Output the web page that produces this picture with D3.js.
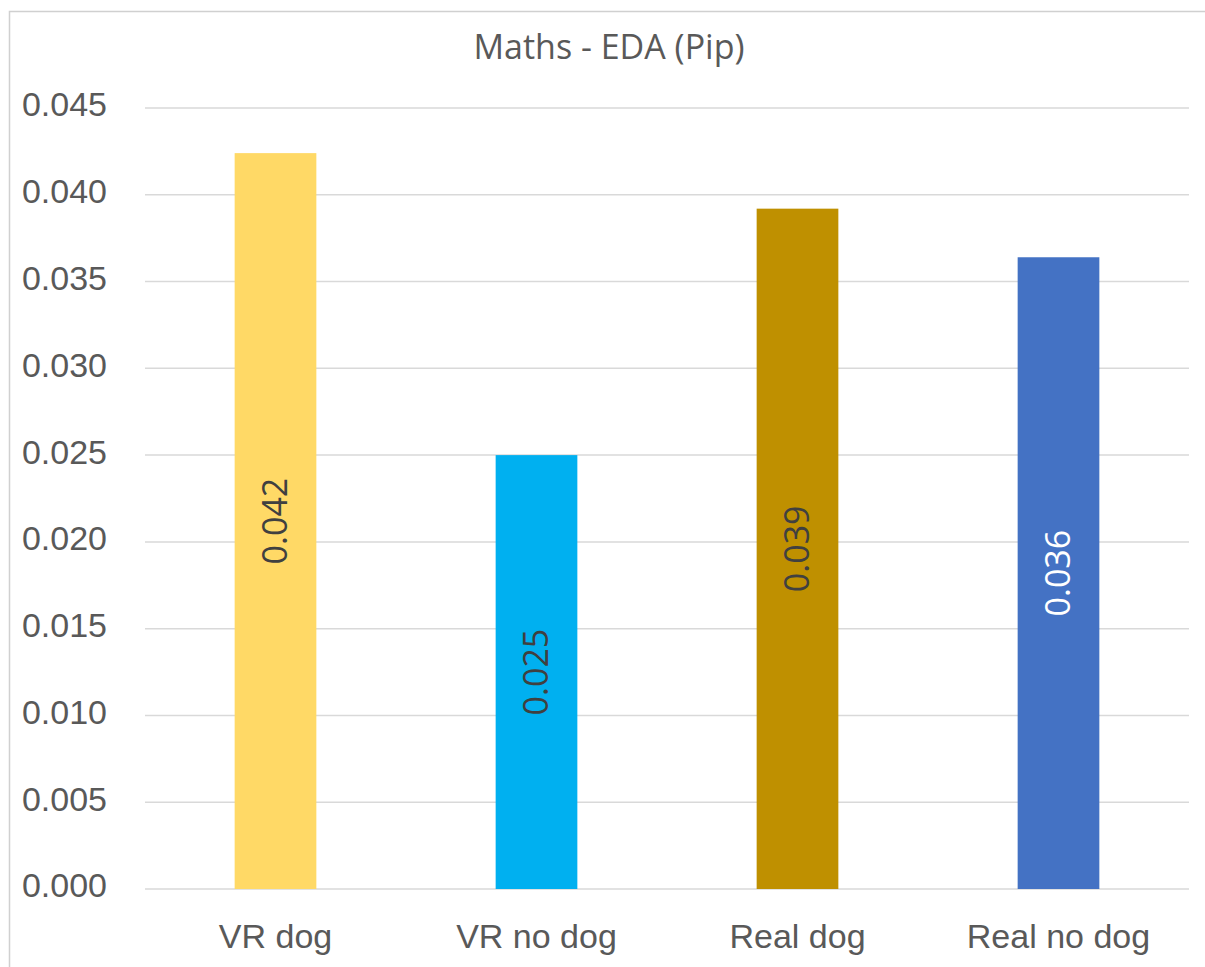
<!DOCTYPE html>
<html>
<head>
<meta charset="utf-8">
<script src="https://cdn.jsdelivr.net/npm/d3@7"></script>
<style>
  body { margin: 0; background: #fff; }
  svg { display: block; font-family: "Open Sans", "Liberation Sans", sans-serif; }
</style>
</head>
<body>
<div id="chart"></div>
<script>
// chart data
const categories = ["VR dog", "VR no dog", "Real dog", "Real no dog"];
const values = [0.0424, 0.0250, 0.0392, 0.0364];
const valueLabels = ["0.042", "0.025", "0.039", "0.036"];
const barColors = ["#FFD966", "#00B0F0", "#BF9000", "#4472C4"];
const labelColors = ["#404040", "#404040", "#404040", "#ffffff"];
const yTicks = [0, 0.005, 0.010, 0.015, 0.020, 0.025, 0.030, 0.035, 0.040, 0.045];

const width = 1205, height = 967;
const margin = { top: 108, right: 16, bottom: 78, left: 145 };

const svg = d3.select("#chart").append("svg")
    .attr("width", width)
    .attr("height", height);

// outer frame (clipped right and bottom like the screenshot)
svg.append("path")
    .attr("d", `M9.5,${height} V11.5 H${width}`)
    .attr("fill", "none")
    .attr("stroke", "#d0d0d0")
    .attr("stroke-width", 1.5);

const x = d3.scaleBand()
    .domain(categories)
    .range([margin.left, width - margin.right])
    .paddingInner(0.687)
    .paddingOuter(0.3435);

const y = d3.scaleLinear()
    .domain([0, 0.045])
    .range([height - margin.bottom, margin.top]);

// gridlines
svg.append("g")
    .selectAll("line")
    .data(yTicks)
    .join("line")
    .attr("x1", margin.left)
    .attr("x2", width - margin.right)
    .attr("y1", d => y(d))
    .attr("y2", d => y(d))
    .attr("stroke", "#d9d9d9")
    .attr("stroke-width", 1.5);

// y axis labels
const yAxis = svg.append("g")
    .attr("transform", `translate(${margin.left - 38},-3)`)
    .call(d3.axisLeft(y).tickValues(yTicks).tickFormat(d3.format(".3f")).tickSize(0).tickPadding(0));
yAxis.select(".domain").remove();
yAxis.selectAll("text")
    .attr("fill", "#595959")
    .style("font-size", "34px")
    .attr("text-anchor", "end");

// bars
svg.append("g")
    .selectAll("rect")
    .data(values)
    .join("rect")
    .attr("x", (d, i) => x(categories[i]))
    .attr("width", x.bandwidth())
    .attr("y", d => y(d))
    .attr("height", d => y(0) - y(d))
    .attr("fill", (d, i) => barColors[i]);

// value labels, rotated, centred in bar
svg.append("g")
    .selectAll("text")
    .data(values)
    .join("text")
    .attr("transform", (d, i) => {
        const cx = x(categories[i]) + x.bandwidth() / 2;
        const cy = (y(d) + y(0)) / 2;
        return `translate(${cx},${cy}) rotate(-90)`;
    })
    .attr("text-anchor", "middle")
    .attr("dy", "0.35em")
    .attr("fill", (d, i) => labelColors[i])
    .style("font-size", "34px")
    .text((d, i) => valueLabels[i]);

// x axis labels
const xAxis = svg.append("g")
    .attr("transform", `translate(0,${y(0)})`)
    .call(d3.axisBottom(x).tickSize(0).tickPadding(35));
xAxis.select(".domain").remove();
xAxis.selectAll("text")
    .attr("fill", "#595959")
    .style("font-size", "34px");

// title
svg.append("text")
    .attr("x", 609)
    .attr("y", 59)
    .attr("text-anchor", "middle")
    .attr("fill", "#595959")
    .style("font-size", "34px")
    .text("Maths - EDA (Pip)");
</script>
</body>
</html>
